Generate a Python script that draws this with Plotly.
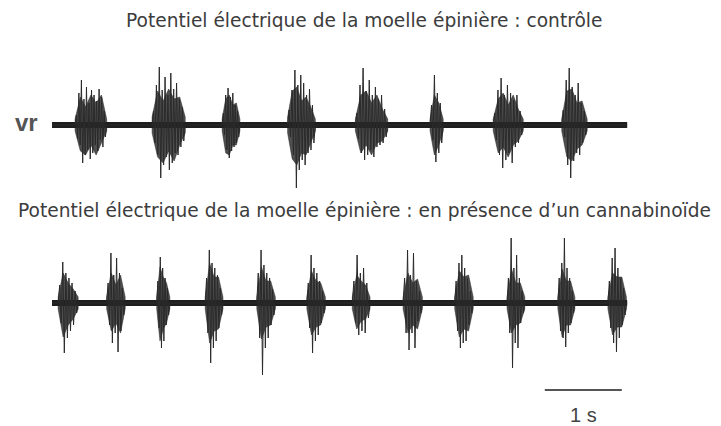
import numpy as np
import plotly.graph_objects as go

# ---------------- data ----------------
# time axis in seconds (scale bar = 1 s); amplitudes in arbitrary units
trace_start = 0.0
trace_end = 7.47

# control recording: burst onset / offset (s)
ctrl_onsets = [0.30, 1.30, 2.21, 3.06, 3.94, 4.91, 5.73, 6.62]
ctrl_offsets = [0.71, 1.73, 2.44, 3.42, 4.36, 5.08, 6.12, 6.95]
# dense core envelope of each burst (upper / lower)
ctrl_core_up = [[6, 28, 18, 30, 22, 30, 6], [8, 34, 24, 36, 26, 28, 8], [6, 26, 30, 20, 22, 6],
                [8, 34, 38, 24, 28, 18, 6], [6, 30, 34, 22, 30, 16, 6], [6, 30, 22, 6],
                [6, 26, 32, 20, 30, 16, 6], [6, 34, 36, 22, 24, 6]]
ctrl_core_dn = [[-6, -26, -30, -20, -30, -18, -6], [-8, -32, -38, -26, -36, -20, -8], [-6, -28, -30, -20, -20, -6],
                [-8, -34, -40, -28, -30, -18, -6], [-6, -28, -20, -30, -18, -16, -6], [-6, -30, -20, -6],
                [-6, -28, -22, -32, -20, -16, -6], [-6, -32, -36, -24, -20, -6]]
# spikes (zig-zag amplitudes)
ctrl_b1 = [10, -14, 32, -20, 45, -38, 26, -30, 38, -25, 22, -34, 35, -28, 30, -20, 24, -26, 36, -15, 28, -22, 14, -12]
ctrl_b2 = [14, -18, 40, -30, 58, -53, 35, -40, 48, -32, 30, -45, 52, -38, 36, -28, 42, -30, 26, -22, 18, -16]
ctrl_b3 = [12, -10, 30, -25, 37, -33, 28, -26, 32, -22, 20, -18, 14, -12]
ctrl_b4 = [15, -12, 35, -30, 55, -63, 40, -45, 50, -35, 42, -40, 30, -28, 36, -25, 20, -18]
ctrl_b5 = [12, -14, 40, -28, 57, -35, 34, -30, 45, -25, 30, -32, 38, -22, 26, -20, 30, -18, 16, -12]
ctrl_b6 = [20, -15, 50, -37, 32, -28, 22, -18]
ctrl_b7 = [12, -15, 35, -30, 47, -43, 30, -35, 40, -28, 32, -38, 25, -22, 30, -18, 14, -10]
ctrl_b8 = [15, -12, 45, -40, 57, -53, 38, -36, 30, -28, 42, -30, 22, -18, 14, -10]
ctrl_bursts = [ctrl_b1, ctrl_b2, ctrl_b3, ctrl_b4, ctrl_b5, ctrl_b6, ctrl_b7, ctrl_b8]

# cannabinoid recording
cb_onsets = [0.08, 0.71, 1.36, 1.99, 2.66, 3.31, 3.90, 4.56, 5.23, 5.91, 6.57, 7.22]
cb_offsets = [0.34, 0.95, 1.53, 2.22, 2.90, 3.55, 4.13, 4.81, 5.47, 6.14, 6.79, 7.46]
cb_core_up = [[6, 30, 20, 14, 6], [6, 30, 18, 28, 6], [6, 36, 26, 20, 6], [6, 40, 26, 26, 6],
              [6, 36, 22, 22, 6], [6, 32, 22, 20, 6], [6, 28, 22, 18, 6], [6, 30, 20, 24, 6],
              [6, 32, 26, 28, 6], [6, 34, 20, 20, 6], [6, 34, 22, 22, 6], [6, 30, 26, 26, 6]]
cb_core_dn = [[-6, -34, -22, -16, -6], [-6, -28, -20, -30, -6], [-6, -38, -26, -20, -6], [-6, -40, -28, -26, -6],
              [-6, -36, -24, -22, -6], [-6, -32, -24, -22, -6], [-6, -26, -18, -16, -6], [-6, -30, -22, -26, -6],
              [-6, -34, -26, -28, -6], [-6, -30, -22, -20, -6], [-6, -34, -22, -22, -6], [-6, -32, -24, -24, -6]]
cb_b1 = [18, -20, 41, -50, 30, -35, 25, -28, 20, -22, 12, -10]
cb_b2 = [20, -22, 50, -40, 28, -30, 45, -49, 30, -28, 15, -12]
cb_b3 = [22, -25, 46, -45, 35, -38, 25, -22, 15, -12]
cb_b4 = [25, -30, 53, -60, 40, -45, 35, -38, 28, -25, 15, -12]
cb_b5 = [30, -35, 53, -72, 38, -45, 30, -35, 25, -22, 14, -12]
cb_b6 = [20, -25, 48, -50, 35, -38, 30, -32, 22, -20, 12, -10]
cb_b7 = [22, -20, 48, -32, 30, -28, 35, -30, 20, -15]
cb_b8 = [25, -30, 53, -47, 28, -30, 50, -45, 22, -18, 12, -10]
cb_b9 = [22, -28, 40, -45, 48, -40, 35, -38, 25, -22, 12, -10]
cb_b10 = [25, -30, 65, -65, 35, -40, 48, -45, 25, -20, 12, -10]
cb_b11 = [25, -28, 40, -35, 65, -44, 35, -30, 25, -20, 12, -10]
cb_b12 = [22, -25, 45, -40, 55, -49, 35, -35, 25, -22, 15, -12]
cb_bursts = [cb_b1, cb_b2, cb_b3, cb_b4, cb_b5, cb_b6, cb_b7, cb_b8, cb_b9, cb_b10, cb_b11, cb_b12]

title_ctrl = "Potentiel électrique de la moelle épinière : contrôle"
title_cb = "Potentiel électrique de la moelle épinière : en présence d’un cannabinoïde"
channel_label = "vr"
scale_label = "1 s"
scale_start = 6.40
scale_len = 1.0


def build_spikes(onsets, offsets, bursts):
    xs, ys = [trace_start], [0]
    for t0, t1, vals in zip(onsets, offsets, bursts):
        ts = np.linspace(t0, t1, len(vals) + 2)
        xs += list(ts)
        ys += [0] + list(vals) + [0]
    xs.append(trace_end)
    ys.append(0)
    return xs, ys


def build_cores(onsets, offsets, ups, dns):
    xs, ys = [], []
    for t0, t1, up, dn in zip(onsets, offsets, ups, dns):
        tu = np.linspace(t0, t1, len(up))
        td = np.linspace(t1, t0, len(dn))
        xs += list(tu) + list(td) + [tu[0], None]
        ys += list(up) + list(dn[::-1]) + [up[0], None]
    return xs, ys


ink = "#1e1e1e"
fig = go.Figure()

for yax, on, off, ups, dns, bursts in [
    ("y", ctrl_onsets, ctrl_offsets, ctrl_core_up, ctrl_core_dn, ctrl_bursts),
    ("y2", cb_onsets, cb_offsets, cb_core_up, cb_core_dn, cb_bursts),
]:
    fig.add_trace(go.Scatter(x=[trace_start, trace_end], y=[0, 0], mode="lines",
                             line=dict(color=ink, width=6), yaxis=yax, hoverinfo="skip"))
    kx, ky = build_cores(on, off, ups, dns)
    fig.add_trace(go.Scatter(x=kx, y=ky, mode="lines", fill="toself", fillcolor="rgba(35,35,35,0.8)",
                             line=dict(color="rgba(35,35,35,0.5)", width=1), yaxis=yax, hoverinfo="skip"))
    sx, sy = build_spikes(on, off, bursts)
    fig.add_trace(go.Scatter(x=sx, y=sy, mode="lines", line=dict(color="#2a2a2a", width=1),
                             yaxis=yax, hoverinfo="skip"))

# scale bar
fig.add_trace(go.Scatter(x=[scale_start, scale_start + scale_len], y=[-87, -87], mode="lines",
                         line=dict(color="#555555", width=2), yaxis="y2", hoverinfo="skip"))

# the page body adds an 8 px margin: figure is placed at (8, 8) in the window
OFF = 8
W, H = 721 - OFF, 426 - OFF
x0_px, px_per_s = 52 - OFF, 77
top_base, bot_base = 125 - OFF, 303 - OFF
title_font = dict(family="DejaVu Sans", size=18.6, color="#3c3c3c")
fig.update_layout(
    width=W, height=H, margin=dict(l=0, r=0, t=0, b=0),
    paper_bgcolor="white", plot_bgcolor="white", showlegend=False,
    xaxis=dict(range=[-x0_px / px_per_s, (W - x0_px) / px_per_s], visible=False, fixedrange=True),
    yaxis=dict(range=[-(H - top_base), top_base], visible=False, domain=[0, 1]),
    yaxis2=dict(range=[-(H - bot_base), bot_base], visible=False, overlaying="y"),
    annotations=[
        dict(text=title_ctrl, x=(364 - OFF) / W, y=1 - (21 - OFF) / H, xref="paper", yref="paper",
             showarrow=False, yanchor="middle", xanchor="center", font=title_font),
        dict(text=title_cb, x=(364.5 - OFF) / W, y=1 - (210 - OFF) / H, xref="paper", yref="paper",
             showarrow=False, yanchor="middle", xanchor="center", font=title_font),
        dict(text="<b>" + channel_label + "</b>", x=-0.325, y=3, xref="x", yref="y", showarrow=False,
             yanchor="middle", font=dict(family="Liberation Sans", size=24, color="#555555")),
        dict(text=scale_label, x=scale_start + scale_len / 2, y=-112, xref="x", yref="y2",
             showarrow=False, yanchor="middle", font=dict(family="Liberation Sans", size=20, color="#444444")),
    ],
)

fig.write_html("out.html")
